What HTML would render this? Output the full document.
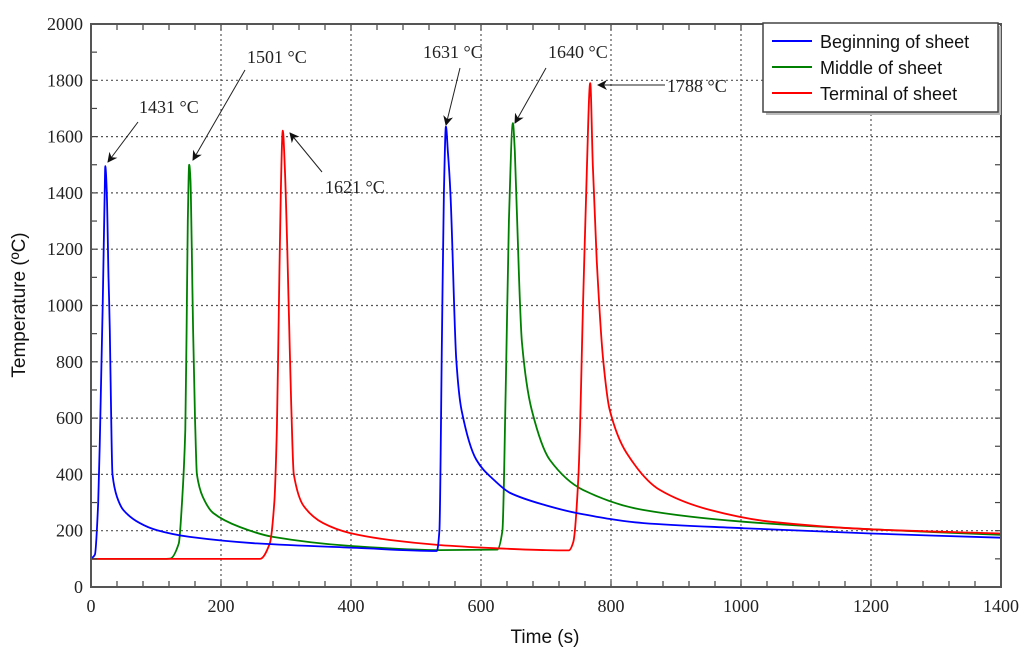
<!DOCTYPE html>
<html><head><meta charset="utf-8"><style>
html,body{margin:0;padding:0;background:#fff;}
svg{display:block;}
.tick{font-family:"Liberation Serif",serif;font-size:18px;fill:#222;}
.ann{font-family:"Liberation Serif",serif;font-size:18px;fill:#222;}
.title{font-family:"Liberation Sans",sans-serif;font-size:19px;fill:#111;}
.leg{font-family:"Liberation Sans",sans-serif;font-size:18px;fill:#111;}
</style></head><body>
<svg id="chart" width="1024" height="661" viewBox="0 0 1024 661">
<defs><marker id="ah" markerWidth="10" markerHeight="10" refX="9" refY="5" orient="auto" markerUnits="userSpaceOnUse"><path d="M0,0 L10,5 L0,10 L3,5 z" fill="#111"/></marker></defs>
<g id="grid"></g>
<g id="series"></g>
<g id="axes"></g>
<g id="ann"></g>
<text class="title" x="545" y="643" text-anchor="middle">Time (s)</text>
<text class="title" transform="translate(25,305) rotate(-90)" text-anchor="middle">Temperature (ºC)</text>
<g>
<rect x="766" y="26" width="235" height="89" fill="#bbb"/>
<rect x="763" y="23" width="235" height="89" fill="#fff" stroke="#444" stroke-width="1.5"/>
<line x1="772" y1="41" x2="812" y2="41" stroke="#0000ff" stroke-width="2"/>
<text class="leg" x="820" y="48">Beginning of sheet</text>
<line x1="772" y1="67" x2="812" y2="67" stroke="#008000" stroke-width="2"/>
<text class="leg" x="820" y="74">Middle of sheet</text>
<line x1="772" y1="93" x2="812" y2="93" stroke="#ff0000" stroke-width="2"/>
<text class="leg" x="820" y="100">Terminal of sheet</text>
</g>
</svg>
<script>
const xTicks=[0,200,400,600,800,1000,1200,1400];
const yTicks=[0,200,400,600,800,1000,1200,1400,1600,1800,2000];
const beginT=[0,6,11,14,18,21,22,24,27,29,31,33,40,50,75,101,152,255,409,532,536,540,543,546,549,553,562,570,593,620,645,700,747,850,1003,1200,1400];
const beginV=[100,115,300,565,1000,1400,1495,1420,1100,913,600,400,320,273,227,202,178,155,139,128,200,900,1400,1635,1550,1400,806,629,451,380,334,290,263,227,209,190,175];
const middleT=[0,110,122,135,140,145,147,149,151,153,155,157,160,163,172,188,229,280,398,537,625,633,638,643,649,652,655,663,678,706,757,849,1003,1200,1400];
const middleV=[100,100,101,155,300,558,913,1300,1500,1450,1200,913,600,400,320,263,213,178,146,131,133,200,700,1300,1648,1550,1339,867,629,451,345,274,232,205,185];
const termT=[0,260,275,282,286,289,292,295,298,302,305,308,312,327,357,398,460,537,620,700,735,742,750,757,763,768,772,778,788,798,824,875,952,1045,1200,1400];
const termV=[100,100,155,300,565,1000,1400,1621,1500,1200,913,650,400,288,227,192,167,149,138,131,130,160,400,1000,1500,1790,1500,1162,806,629,476,345,274,232,205,190];
const X0=91,X1=1001,Y0=587,Y1=24;
const sx=v=>X0+(v-0)/1400*(X1-X0);
const sy=v=>Y0-(v/2000)*(Y0-Y1);
const NS="http://www.w3.org/2000/svg";
function mk(tag,attrs,parent){const e=document.createElementNS(NS,tag);for(const k in attrs)e.setAttribute(k,attrs[k]);parent.appendChild(e);return e;}
const grid=document.getElementById('grid'),axes=document.getElementById('axes'),ser=document.getElementById('series'),ann=document.getElementById('ann');
xTicks.forEach(t=>{
 if(t>0&&t<1400){const g=mk('line',{x1:sx(t),x2:sx(t),y1:Y1,y2:Y0,stroke:'#555','stroke-width':1.2,'stroke-dasharray':'2,3'},grid);
 
 }
 const l=mk('text',{x:sx(t),y:Y0+25,'text-anchor':'middle',class:'tick'},axes);l.textContent=t;
 
 
});
yTicks.forEach(t=>{
 if(t>0&&t<2000){const g=mk('line',{x1:X0,x2:X1,y1:sy(t),y2:sy(t),stroke:'#555','stroke-width':1.2,'stroke-dasharray':'2,3'},grid);
 
 }
 const l=mk('text',{x:X0-8,y:sy(t)+6,'text-anchor':'end',class:'tick'},axes);l.textContent=t;
 
 
});
for(let t=0;t<=1400;t+=40){mk('line',{x1:sx(t),x2:sx(t),y1:Y0,y2:Y0-6,stroke:'#444','stroke-width':1.2},axes);mk('line',{x1:sx(t),x2:sx(t),y1:Y1,y2:Y1+6,stroke:'#444','stroke-width':1.2},axes);}
for(let v=0;v<=2000;v+=100){mk('line',{x1:X0,x2:X0+6,y1:sy(v),y2:sy(v),stroke:'#444','stroke-width':1.2},axes);mk('line',{x1:X1,x2:X1-6,y1:sy(v),y2:sy(v),stroke:'#444','stroke-width':1.2},axes);}
const frame=mk('rect',{x:X0,y:Y1,width:X1-X0,height:Y0-Y1,fill:'none',stroke:'#555','stroke-width':2},axes);


function monoPath(xs,ys){
 const n=xs.length,d=[],m=new Array(n);
 for(let i=0;i<n-1;i++)d.push((ys[i+1]-ys[i])/(xs[i+1]-xs[i]));
 m[0]=d[0];m[n-1]=d[n-2];
 for(let i=1;i<n-1;i++){m[i]=(d[i-1]*d[i]<=0)?0:2/(1/d[i-1]+1/d[i]);}
 let p='M'+xs[0].toFixed(1)+','+ys[0].toFixed(1);
 for(let i=0;i<n-1;i++){const h=xs[i+1]-xs[i];
  p+=' C'+(xs[i]+h/3).toFixed(1)+','+(ys[i]+m[i]*h/3).toFixed(1)+' '+(xs[i+1]-h/3).toFixed(1)+','+(ys[i+1]-m[i+1]*h/3).toFixed(1)+' '+xs[i+1].toFixed(1)+','+ys[i+1].toFixed(1);}
 return p;
}
function line(T,V,color,name){
 const p=mk('path',{d:monoPath(T.map(sx),V.map(sy)),fill:'none',stroke:color,'stroke-width':1.8,'stroke-linejoin':'round'},ser);
 
 
}
line(middleT,middleV,'#008000','middle-of-sheet-line');
line(termT,termV,'#ff0000','terminal-of-sheet-line');
line(beginT,beginV,'#0000ff','beginning-of-sheet-line');
const anns=[["1431 °C",139,113,138,122,108,162],["1501 °C",247,63,245,70,193,160],["1621 °C",325,193,322,172,290,133],["1631 °C",423,58,460,68,446,125],["1640 °C",548,58,546,68,515,123],["1788 °C",667,92,665,85,598,85]];
anns.forEach(a=>{
 const t=mk('text',{x:a[1],y:a[2],class:'ann'},ann);t.textContent=a[0];
 
 
 const l=mk('line',{x1:a[3],y1:a[4],x2:a[5],y2:a[6],stroke:'#222','stroke-width':1,'marker-end':'url(#ah)'},ann);
 
 
});
</script>
</body></html>
